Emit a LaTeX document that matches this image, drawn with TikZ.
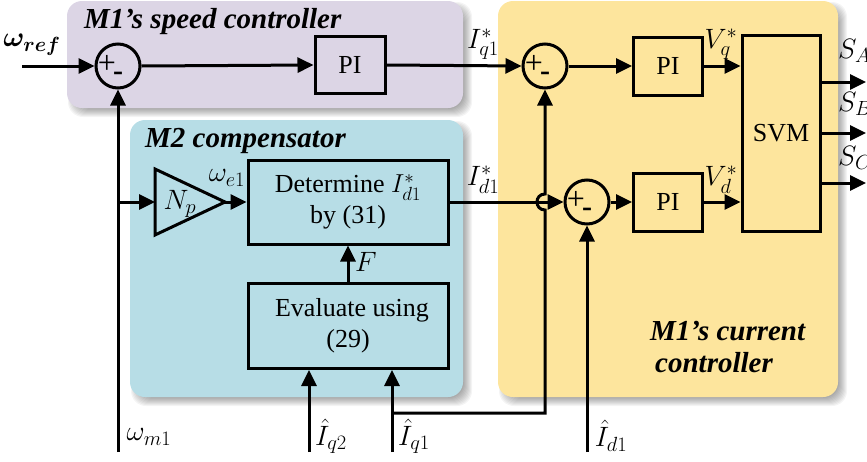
\RequirePackage{fix-cm}
\documentclass[tikz,border=0pt]{standalone}
\usepackage{fontspec}
\setmainfont{Liberation Serif}
\usepackage{amsmath,bm}
\usetikzlibrary{arrows.meta,calc}
\DeclareMathSizes{26}{26}{19}{14}
\DeclareMathSizes{28}{28}{20.5}{15}
\definecolor{spdcol}{RGB}{220,213,229}
\definecolor{cmpcol}{RGB}{183,221,230}
\definecolor{curcol}{RGB}{253,229,157}
\newcommand{\mysoftshadow}[4]{%
  \foreach \sh in {-4,...,4}{%
    \fill[black,opacity=0.045,rounded corners=15pt] (#1+5-\sh,#2+5-\sh) rectangle (#3+5+\sh,#4+5+\sh);}}
\begin{document}
\begin{tikzpicture}[x=1pt,y=-1pt,
  font=\fontsize{26}{31}\selectfont,
  ln/.style={line width=3pt},
  arr/.style={line width=3pt,-{Triangle[length=16pt,width=15pt]}},
  blk/.style={draw,line width=3pt,inner sep=0pt,align=center},
  sumnode/.style={circle,draw,line width=3pt,minimum size=44pt,inner sep=0pt},
  plusl/.style={inner sep=0pt,font=\fontsize{32}{32}\selectfont},
  minusl/.style={inner sep=0pt,font=\fontsize{30}{30}\selectfont\bfseries},
  lab/.style={inner sep=0pt,font=\fontsize{28}{32}\selectfont},
  ttl/.style={inner sep=0pt,anchor=base west,font=\fontsize{29}{33}\selectfont\bfseries\itshape}]
\useasboundingbox (0,0) rectangle (867,461);
% background panels
\mysoftshadow{67}{1}{463}{108}
\mysoftshadow{130}{120}{463}{397}
\mysoftshadow{498}{1}{838}{397}
\fill[spdcol,rounded corners=15pt] (67,1) rectangle (463,108);
\fill[cmpcol,rounded corners=15pt] (130,120) rectangle (463,397);
\fill[curcol,rounded corners=15pt] (498,1) rectangle (838,397);
\node[ttl] (t1) at (84,28) {M1’s speed controller};
\node[ttl] (t2) at (145,147) {M2 compensator};
\node[ttl] (t3) at (650,340) {M1’s current};
\node[ttl] (t4) at (655,372) {controller};
% blocks
\node[sumnode] (sum1) at (118,66) {};
\node[plusl] (sum1p) at (107,64) {+};
\node[minusl] (sum1m) at (118,76) {-};
\node[blk,minimum width=70pt,minimum height=57pt] (pi1) at (350,65) {PI};
\node[sumnode] (sumq) at (545,66) {};
\node[plusl] (sumqp) at (534,64) {+};
\node[minusl] (sumqm) at (545,76) {-};
\node[sumnode] (sumd) at (587,202) {};
\node[plusl] (sumdp) at (576,200) {+};
\node[minusl] (sumdm) at (587,212) {-};
\node[blk,minimum width=69pt,minimum height=58pt] (piq) at (668,66) {PI};
\node[blk,minimum width=69pt,minimum height=58pt] (pid) at (668,202) {PI};
\node[blk,minimum width=78pt,minimum height=196pt] (svm) at (781,133) {SVM};
\node[blk,minimum width=200pt,minimum height=84pt] (det) at (348,202) {Determine $I_{d1}^{*}$\\by (31)};
\node[blk,minimum width=200pt,minimum height=85pt] (eval) at (348,326) {\hspace*{8pt}Evaluate using\\(29)};
% gain triangle
\draw[ln,line join=miter] (155,169) -- (225,202) -- (155,235) -- cycle;
\coordinate (npw) at (155,202);
\coordinate (npe) at (225,202);
\node[lab] (nplab) at (180,204) {$N_p$};
% connectors
\coordinate (wref) at (22,66);
\draw[arr] (wref) -- (sum1.west);
\node[lab] (wreflab) at (32,45) {$\bm{\omega}_{\bm{ref}}$};
\draw[arr] (sum1.east) -- (pi1.west);
\draw[arr] (pi1.east) -- (sumq.west);
\node[lab] (iq1s) at (483,44) {$I_{q1}^{*}$};
\draw[arr] (sumq.east) -- (piq.west);
\draw[arr] (piq.east) -- (piq.east -| svm.west);
\node[lab] (vq) at (721,44) {$V_{q}^{*}$};
\coordinate (wm1) at (118,452);
\draw[arr] (wm1) -- (sum1.south);
\draw[arr] (wm1 |- npw) -- (npw);
\node[lab] (wm1lab) at (149,437) {$\omega_{m1}$};
\draw[arr] (npe) -- (det.west);
\node[lab] (we1) at (227,178) {$\omega_{e1}$};
\draw[arr] (det.east) -- (sumd.west);
\node[lab] (id1s) at (483,180) {$I_{d1}^{*}$};
\draw[arr] (eval.north) -- (det.south);
\node[lab,anchor=west] (flab) at (355,262) {$F$};
\coordinate (iq2) at (309,452);
\draw[arr] (iq2) -- (iq2 |- eval.south);
\node[lab] (iq2lab) at (331,436) {$\hat{I}_{q2}$};
\coordinate (iq1) at (392,452);
\draw[arr] (iq1) -- (iq1 |- eval.south);
\node[lab] (iq1lab) at (414,436) {$\hat{I}_{q1}$};
\coordinate (br) at (392,413);
\coordinate (hop) at (sumq |- sumd);
\draw[arr] (br) -- (br -| sumq) -- ($(hop)+(0,8)$) .. controls +(-10.7,0) and +(-10.7,0) .. ($(hop)+(0,-8)$) -- (sumq.south);
\coordinate (id1) at (587,452);
\draw[arr] (id1) -- (sumd.south);
\node[lab] (id1lab) at (611,436) {$\hat{I}_{d1}$};
\draw[arr] (sumd.east) -- (pid.west);
\draw[arr] (pid.east) -- (pid.east -| svm.west);
\node[lab] (vd) at (721,180) {$V_{d}^{*}$};
\coordinate (sa) at (866,82);
\coordinate (sb) at (866,133);
\coordinate (sc) at (866,183);
\draw[arr] (sa -| svm.east) -- (sa);
\draw[arr] (sb -| svm.east) -- (sb);
\draw[arr] (sc -| svm.east) -- (sc);
\node[lab,anchor=base west] (salab) at (838,58) {$S_A$};
\node[lab,anchor=base west] (sblab) at (838,111) {$S_B$};
\node[lab,anchor=base west] (sclab) at (838,165) {$S_C$};
\end{tikzpicture}
\end{document}
